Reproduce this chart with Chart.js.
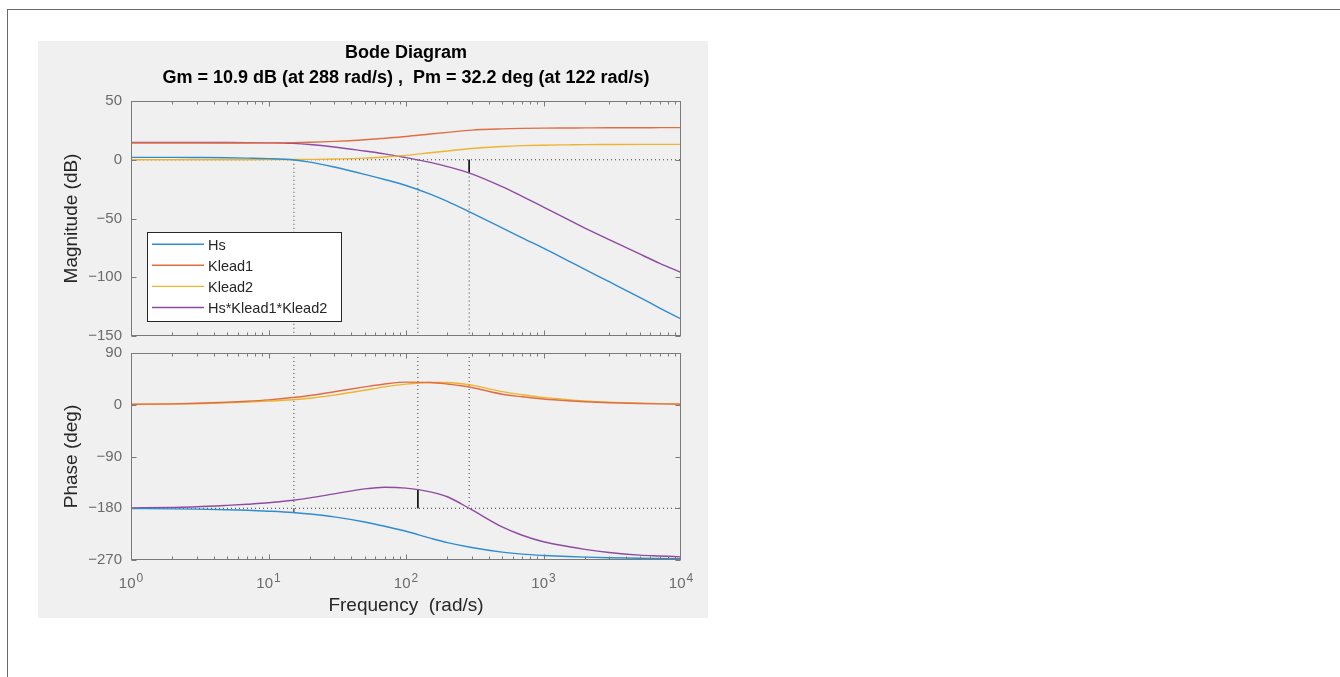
<!DOCTYPE html>
<html>
<head>
<meta charset="utf-8">
<title>Bode Diagram</title>
<script src="https://cdn.jsdelivr.net/npm/chart.js@4.4.1/dist/chart.umd.min.js"></script>
<style>
  html, body { margin: 0; padding: 0; background: #fff; }
  body { width: 1340px; height: 677px; overflow: hidden; position: relative; }
  #frame { position: absolute; left: 7px; top: 9px; width: 1340px; height: 700px;
           border-top: 1px solid #6a6a6a; border-left: 1px solid #6a6a6a; }
  #figure { position: absolute; left: 38px; top: 41px; width: 670px; height: 577px; background: #f0f0f0; }
  #figure canvas { position: absolute; left: 0; }
  #mag { top: 0; }
  #phase { top: 304px; }
</style>
</head>
<body>
<div id="frame"></div>
<div id="figure">
  <canvas id="mag" width="670" height="304"></canvas>
  <canvas id="phase" width="670" height="273"></canvas>
</div>
<script>
// frequency grid (rad/s) the curves were read at
const freq = [1, 2, 3, 5, 7, 10, 15, 20, 30, 50, 70, 100, 150, 200, 300, 500, 700, 1000, 1500, 2000, 3000, 5000, 7000, 10000];

// magnitude (dB)
const magHs   = [2.0, 2.0, 1.9, 1.7, 1.4, 1.0, 0.0, -2.0, -6.2, -12.4, -16.8, -21.9, -29.3, -35.5, -45.3, -58.0, -66.5, -75.3, -85.8, -93.3, -103.8, -117.1, -126.2, -135.5];
const magK1   = [14.2, 14.2, 14.2, 14.3, 14.3, 14.4, 14.6, 14.9, 15.6, 17.0, 18.3, 19.8, 21.9, 23.3, 25.2, 26.3, 26.7, 26.9, 27.0, 27.1, 27.2, 27.2, 27.3, 27.3];
const magK2   = [0, 0, 0, 0, 0.05, 0.1, 0.15, 0.3, 0.6, 1.4, 2.4, 3.7, 5.9, 7.5, 9.6, 11.3, 12.0, 12.4, 12.7, 12.9, 13.0, 13.05, 13.1, 13.1];
const magLoop = [14.8, 14.8, 14.8, 14.7, 14.6, 14.4, 13.9, 13.0, 10.9, 7.4, 5.0, 1.8, -2.2, -5.8, -12.0, -22.9, -31.2, -40.3, -50.8, -58.1, -68.0, -80.2, -88.1, -96.0];

// phase (deg)
const phaseHs   = [-180.5, -181.0, -181.5, -182.5, -183.6, -185.1, -187.4, -190.1, -195.0, -203.9, -211.3, -220.0, -232.0, -239.8, -248.2, -256.3, -259.8, -262.1, -264.0, -265.0, -266.0, -267.0, -267.3, -267.7];
const phaseK1   = [0.8, 1.6, 2.5, 4.3, 6.0, 8.5, 12.5, 16.2, 22.5, 31, 36, 39.3, 38.8, 36, 30, 18.3, 13.8, 10, 6.9, 5.2, 3.5, 2.1, 1.5, 1.0];
const phaseK2   = [0.6, 1.2, 1.8, 3.2, 4.5, 6.3, 8.8, 11.3, 16.8, 25.3, 31, 35.8, 38.7, 38.8, 34.2, 22.8, 17.5, 12.8, 8.9, 6.7, 4.5, 2.8, 2.0, 1.4];
const phaseLoop = [-179.5, -178.5, -177.5, -175, -173, -170.5, -166, -162, -155, -146.3, -143.4, -145, -151.5, -160, -182.5, -212.5, -227, -238.3, -246.5, -251.5, -257, -261.5, -263, -264.5];

// margin markers: crossover / phase-crossover frequencies and where their stems end
const markerFreq  = [15.3, 122, 288];
const markerMag   = [0, 0, -10.9];
const markerPhase = [-186.6, -147.8, -180];

const seriesNames  = ['Hs', 'Klead1', 'Klead2', 'Hs*Klead1*Klead2'];
const seriesColors = ['#2f8ccf', '#e06d43', '#eeb430', '#8f4aa2'];

const decades   = [1, 10, 100, 1000, 10000];
const decadeExp = ['0', '1', '2', '3', '4'];
const magRange   = [-150, 50];
const phaseRange = [-270, 90];

const FONT = "'Liberation Sans', Arial, Helvetica, sans-serif";
const TICK_COLOR = '#6b6b6b';
const LABEL_COLOR = '#262626';
const FRAME_COLOR = '#7a7a7a';

function pts(values) {
  return freq.map((f, i) => ({ x: f, y: values[i] }));
}

function curves(lists) {
  return lists.map((vals, i) => ({
    label: seriesNames[i],
    data: pts(vals),
    borderColor: seriesColors[i],
    borderWidth: 1.4,
    pointRadius: 0,
    cubicInterpolationMode: 'monotone',
    fill: false
  }));
}

function guide(x0, y0, x1, y1, dotted) {
  return {
    label: '',
    data: [{ x: x0, y: y0 }, { x: x1, y: y1 }],
    borderColor: dotted ? '#3a3a3a' : '#111',
    borderWidth: 1,
    borderDash: dotted ? [1, 3] : [],
    pointRadius: 0,
    fill: false
  };
}

function magGuides() {
  const out = [guide(1, 0, 10000, 0, true)];
  markerFreq.forEach((f, i) => {
    if (markerMag[i] < 0) out.push(guide(f, 0, f, markerMag[i], false));
    out.push(guide(f, markerMag[i], f, magRange[0], true));
  });
  return out;
}

function phaseGuides() {
  const out = [guide(1, -180, 10000, -180, true)];
  markerFreq.forEach((f, i) => {
    out.push(guide(f, phaseRange[1], f, Math.max(markerPhase[i], -180), true));
    if (markerPhase[i] !== -180) out.push(guide(f, markerPhase[i], f, -180, false));
  });
  return out;
}

const fmtTick = v => (v < 0 ? '\u2212' + (-v) : String(v));

// box, inward ticks, 10^n labels and the legend, MATLAB style
const axesFrame = {
  id: 'axesFrame',
  afterDatasetsDraw(chart, args, opts) {
    const { ctx, chartArea: a } = chart;
    const x = chart.scales.x, y = chart.scales.y;
    const L = Math.round(a.left) + 0.5, R = Math.round(a.right) - 0.5;
    const T = Math.round(a.top) + 0.5, B = Math.round(a.bottom) - 0.5;
    ctx.save();
    ctx.strokeStyle = FRAME_COLOR;
    ctx.lineWidth = 1;
    ctx.setLineDash([]);
    ctx.strokeRect(L, T, R - L, B - T);
    ctx.beginPath();
    decades.slice(0, -1).forEach(d => {
      for (let m = 1; m <= 9; m++) {
        const px = Math.round(x.getPixelForValue(m * d)) + 0.5;
        const len = m === 1 ? 5 : 3;
        ctx.moveTo(px, T); ctx.lineTo(px, T + len);
        ctx.moveTo(px, B); ctx.lineTo(px, B - len);
      }
    });
    y.ticks.forEach(t => {
      const py = Math.round(y.getPixelForValue(t.value)) + 0.5;
      ctx.moveTo(L, py); ctx.lineTo(L + 5, py);
      ctx.moveTo(R, py); ctx.lineTo(R - 5, py);
    });
    ctx.stroke();

    if (opts.xLabels) {
      ctx.fillStyle = TICK_COLOR;
      ctx.textBaseline = 'middle';
      ctx.textAlign = 'left';
      decades.forEach((d, i) => {
        const px = x.getPixelForValue(d);
        ctx.font = '15px ' + FONT;
        const w1 = ctx.measureText('10').width;
        ctx.font = '12px ' + FONT;
        const w2 = ctx.measureText(decadeExp[i]).width;
        const start = px - (w1 + 1 + w2) / 2;
        ctx.font = '15px ' + FONT;
        ctx.fillText('10', start, a.bottom + 24);
        ctx.font = '12px ' + FONT;
        ctx.fillText(decadeExp[i], start + w1 + 1, a.bottom + 18.5);
      });
    }

    if (opts.legend) {
      const bx = Math.round(a.left + 16) + 0.5, by = Math.round(a.top + 131) + 0.5;
      ctx.fillStyle = '#fff';
      ctx.fillRect(bx, by, 194, 89);
      ctx.strokeStyle = '#262626';
      ctx.strokeRect(bx, by, 194, 89);
      ctx.font = '14.5px ' + FONT;
      ctx.textBaseline = 'middle';
      chart.data.datasets.slice(0, seriesNames.length).forEach((ds, i) => {
        const ry = a.top + 144.7 + i * 21.1;
        ctx.strokeStyle = ds.borderColor;
        ctx.lineWidth = 1.4;
        ctx.beginPath();
        ctx.moveTo(a.left + 21, ry - 1.5);
        ctx.lineTo(a.left + 73, ry - 1.5);
        ctx.stroke();
        ctx.fillStyle = LABEL_COLOR;
        ctx.fillText(ds.label, a.left + 77, ry);
      });
    }
    ctx.restore();
  }
};

function yAxis(range, step, label) {
  return {
    min: range[0], max: range[1],
    ticks: { stepSize: step, autoSkip: false, padding: 9, color: TICK_COLOR,
             font: { family: FONT, size: 15 }, callback: fmtTick },
    grid: { display: false, drawTicks: false },
    border: { display: false },
    title: { display: true, text: label, color: LABEL_COLOR,
             font: { family: FONT, size: 19 }, padding: { top: 22.3, bottom: 0 } },
    afterFit(s) { s.width = 93; s.paddingTop = 0; s.paddingBottom = 0; }
  };
}

const common = {
  responsive: false,
  animation: false,
  events: [],
  plugins: { legend: { display: false }, tooltip: { enabled: false } }
};

new Chart(document.getElementById('mag'), {
  type: 'line',
  data: { datasets: curves([magHs, magK1, magK2, magLoop]).concat(magGuides()) },
  options: {
    ...common,
    layout: { padding: { left: 0, right: 27, top: 0, bottom: 9 } },
    plugins: {
      ...common.plugins,
      title: {
        display: true, fullSize: false,
        text: ['Bode Diagram', 'Gm = 10.9 dB (at 288 rad/s) ,  Pm = 32.2 deg (at 122 rad/s)'],
        color: '#000',
        font: { family: FONT, size: 18, weight: 'bold', lineHeight: '25px' },
        padding: { top: 0, bottom: 10 }
      },
      axesFrame: { legend: true, xLabels: false }
    },
    scales: {
      x: { type: 'logarithmic', min: 1, max: 10000, display: false },
      y: yAxis(magRange, 50, 'Magnitude (dB)')
    }
  },
  plugins: [axesFrame]
});

new Chart(document.getElementById('phase'), {
  type: 'line',
  data: { datasets: curves([phaseHs, phaseK1, phaseK2, phaseLoop]).concat(phaseGuides()) },
  options: {
    ...common,
    layout: { padding: { left: 0, right: 27, top: 8, bottom: 0 } },
    plugins: {
      ...common.plugins,
      axesFrame: { legend: false, xLabels: true }
    },
    scales: {
      x: {
        type: 'logarithmic', min: 1, max: 10000,
        ticks: { display: false },
        grid: { display: false, drawTicks: false },
        border: { display: false },
        title: { display: true, text: 'Frequency  (rad/s)', color: LABEL_COLOR,
                 font: { family: FONT, size: 19 }, padding: { top: 0, bottom: 0.6 } },
        afterFit(s) { s.height = 58; s.paddingLeft = 0; s.paddingRight = 0; }
      },
      y: yAxis(phaseRange, 90, 'Phase (deg)')
    }
  },
  plugins: [axesFrame]
});
</script>
</body>
</html>
